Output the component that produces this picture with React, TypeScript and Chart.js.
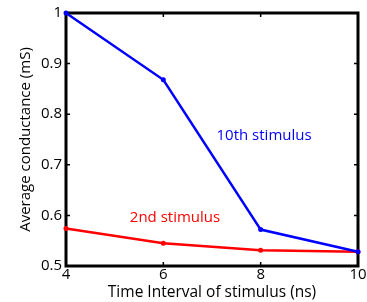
import React, { useEffect, useRef } from "react";
import { Chart, registerables } from "chart.js";

Chart.register(...registerables);

const intervals = [4, 6, 8, 10];
const tenthStimulus = [1.0, 0.868, 0.572, 0.528];
const secondStimulus = [0.574, 0.545, 0.531, 0.528];
const xTicks = [4, 6, 8, 10];
const yTicks = [0.5, 0.6, 0.7, 0.8, 0.9, 1.0];
const annotations = [
  { text: "10th stimulus", x: 8.07, y: 0.758, color: "#0000ff" },
  { text: "2nd stimulus", x: 6.24, y: 0.596, color: "#ff0000" },
];

const FONT = "'Open Sans', 'Liberation Sans', sans-serif";

const framePlugin = {
  id: "frame",
  beforeDatasetsDraw(chart: any) {
    const { ctx, chartArea, scales } = chart;
    const { left, right, top, bottom } = chartArea;
    ctx.save();
    ctx.strokeStyle = "#000";
    ctx.lineWidth = 1.5;
    const tl = 4;
    ctx.beginPath();
    xTicks.forEach((v) => {
      const px = scales.x.getPixelForValue(v);
      ctx.moveTo(px, bottom);
      ctx.lineTo(px, bottom - tl);
      ctx.moveTo(px, top);
      ctx.lineTo(px, top + tl);
    });
    yTicks.forEach((v) => {
      const py = scales.y.getPixelForValue(v);
      ctx.moveTo(left, py);
      ctx.lineTo(left + tl, py);
      ctx.moveTo(right, py);
      ctx.lineTo(right - tl, py);
    });
    ctx.stroke();
    ctx.lineWidth = 3;
    ctx.strokeRect(left, top, right - left, bottom - top);
    ctx.restore();
  },
  afterDatasetsDraw(chart: any) {
    const { ctx, scales } = chart;
    ctx.save();
    ctx.font = `15px ${FONT}`;
    ctx.textAlign = "center";
    ctx.textBaseline = "middle";
    annotations.forEach((a) => {
      ctx.fillStyle = a.color;
      ctx.fillText(a.text, scales.x.getPixelForValue(a.x), scales.y.getPixelForValue(a.y));
    });
    ctx.restore();
  },
};

export default function App() {
  const ref = useRef<HTMLCanvasElement | null>(null);
  useEffect(() => {
    document.body.style.margin = "0";
    const chart = new Chart(ref.current!, {
      type: "line",
      data: {
        datasets: [
          {
            label: "10th stimulus",
            data: intervals.map((x, i) => ({ x, y: tenthStimulus[i] })),
            borderColor: "#0000ff",
            backgroundColor: "#0000ff",
            borderWidth: 2.5,
            pointRadius: 2.5,
            pointBorderWidth: 0,
            tension: 0,
            clip: false,
          },
          {
            label: "2nd stimulus",
            data: intervals.map((x, i) => ({ x, y: secondStimulus[i] })),
            borderColor: "#ff0000",
            backgroundColor: "#ff0000",
            borderWidth: 2.5,
            pointRadius: 2.5,
            pointBorderWidth: 0,
            tension: 0,
            clip: false,
          },
        ],
      },
      plugins: [framePlugin],
      options: {
        animation: false,
        responsive: false,
        devicePixelRatio: 1,
        layout: { padding: { top: 12, right: 9, left: 0, bottom: 0 } },
        plugins: { legend: { display: false }, tooltip: { enabled: false } },
        scales: {
          x: {
            type: "linear",
            min: 4,
            max: 10,
            afterBuildTicks: (s: any) => {
              s.ticks = xTicks.map((v) => ({ value: v }));
            },
            afterFit: (s: any) => {
              s.height = 36;
            },
            grid: { display: false, drawTicks: false },
            border: { display: false },
            ticks: {
              color: "#000",
              padding: 0,
              maxRotation: 0,
              font: { family: FONT, size: 15 },
              callback: (v: any) => String(v),
            },
            title: {
              display: true,
              text: "Time Interval of stimulus (ns)",
              color: "#000",
              font: { family: FONT, size: 15.5 },
              padding: { top: 0, bottom: 0.5 },
            },
          },
          y: {
            type: "linear",
            min: 0.5,
            max: 1,
            afterBuildTicks: (s: any) => {
              s.ticks = yTicks.map((v) => ({ value: v }));
            },
            afterFit: (s: any) => {
              s.width = 66;
            },
            grid: { display: false, drawTicks: false },
            border: { display: false },
            ticks: {
              color: "#000",
              padding: 4,
              font: { family: FONT, size: 15 },
              callback: (v: any) => String(Math.round(v * 10) / 10),
            },
            title: {
              display: true,
              text: "Average conductance (mS)",
              color: "#000",
              font: { family: FONT, size: 15 },
              padding: { top: 17, bottom: 0 },
            },
          },
        },
      },
    } as any);
    return () => chart.destroy();
  }, []);
  return <canvas ref={ref} width={367} height={302} style={{ display: "block" }} />;
}
